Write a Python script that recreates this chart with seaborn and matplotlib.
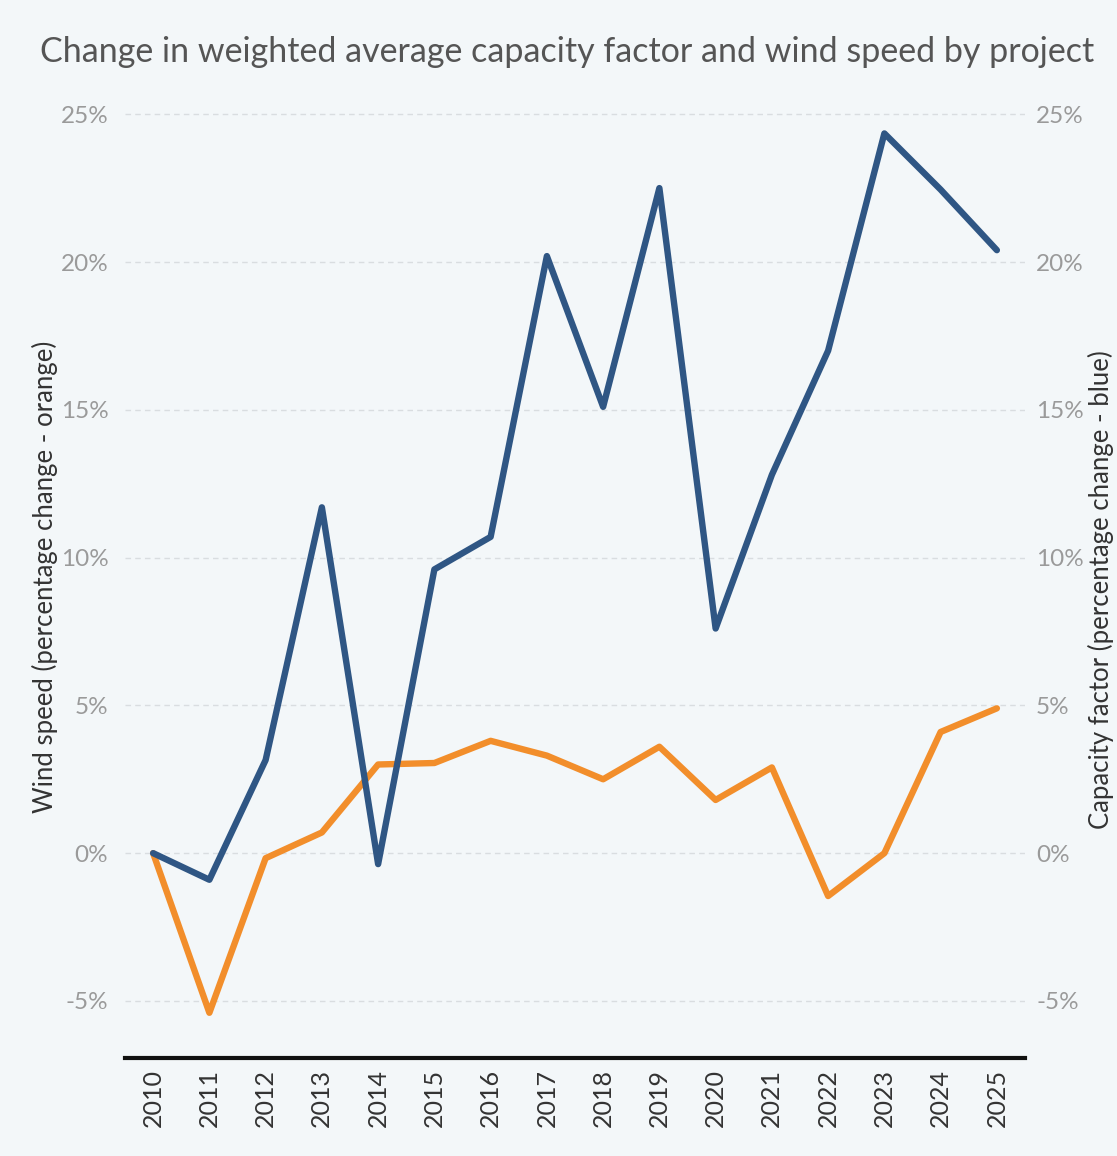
import matplotlib
matplotlib.use("Agg")
import matplotlib.pyplot as plt
import matplotlib.ticker as mticker
import pandas as pd
import seaborn as sns

# Data (percentage change vs 2010)
years = list(range(2010, 2026))
capacity_factor = [0.0, -0.9, 3.15, 11.7, -0.37, 9.6, 10.7, 20.2, 15.1, 22.5,
                   7.6, 12.8, 17.0, 24.35, 22.45, 20.4]
wind_speed = [0.0, -5.4, -0.17, 0.7, 3.0, 3.05, 3.8, 3.3, 2.5, 3.6,
              1.8, 2.9, -1.45, 0.0, 4.1, 4.9]
y_ticks = [-5, 0, 5, 10, 15, 20, 25]

df = pd.DataFrame({"year": years, "capacity": capacity_factor, "wind": wind_speed})

bg = "#f3f7f9"
blue = "#2f5684"
orange = "#f28e2b"

sns.set_theme(style="white")
plt.rcParams['font.family'] = ['Lato', 'DejaVu Sans']

fig = plt.figure(figsize=(11.17, 11.56), dpi=100, facecolor=bg)
ax = fig.add_axes([125 / 1117, 1 - 1058 / 1156, 900 / 1117, (1058 - 95) / 1156])
ax.set_facecolor(bg)

sns.lineplot(data=df, x="year", y="wind", ax=ax, color=orange, linewidth=4.6)
sns.lineplot(data=df, x="year", y="capacity", ax=ax, color=blue, linewidth=4.6)

ax.set_xlim(2009.5, 2025.5)
ax.set_ylim(-6.93, 25.65)
ax.set_yticks(y_ticks)
ax.yaxis.set_major_formatter(mticker.FuncFormatter(lambda v, p: f"{v:.0f}%"))
ax.set_xticks(years)
ax.set_xticklabels([str(y) for y in years], rotation=90, fontsize=18, color="#333333")
ax.tick_params(axis="y", labelsize=17.5, labelcolor="#9a9a9a", length=0, pad=12)
ax.tick_params(axis="x", length=0, pad=8)
ax.grid(axis="y", color="#d9dde0", linestyle=(0, (4, 3)), linewidth=1)
ax.set_axisbelow(True)
for s in ["top", "right", "left"]:
    ax.spines[s].set_visible(False)
ax.spines["bottom"].set_color("#111111")
ax.spines["bottom"].set_linewidth(3)
ax.set_xlabel("")
ax.set_ylabel("Wind speed (percentage change - orange)", fontsize=18.5, color="#333333", labelpad=2)

ax2 = ax.twinx()
ax2.set_ylim(ax.get_ylim())
ax2.set_yticks(y_ticks)
ax2.yaxis.set_major_formatter(mticker.FuncFormatter(lambda v, p: f"{v:.0f}%"))
ax2.tick_params(axis="y", labelsize=17.5, labelcolor="#9a9a9a", length=0, pad=8)
for s in ["top", "right", "left", "bottom"]:
    ax2.spines[s].set_visible(False)
ax2.set_ylabel("")

fig.text(1101 / 1117, 1 - 590 / 1156, "Capacity factor (percentage change - blue)",
         fontsize=18.5, color="#333333", rotation=90, ha="center", va="center")

fig.text(40 / 1117, 1 - 52 / 1156, "Change in weighted average capacity factor and wind speed by project",
         fontsize=24.5, color="#555555", ha="left", va="center")

fig.savefig("out.png", dpi=100, facecolor=bg)
